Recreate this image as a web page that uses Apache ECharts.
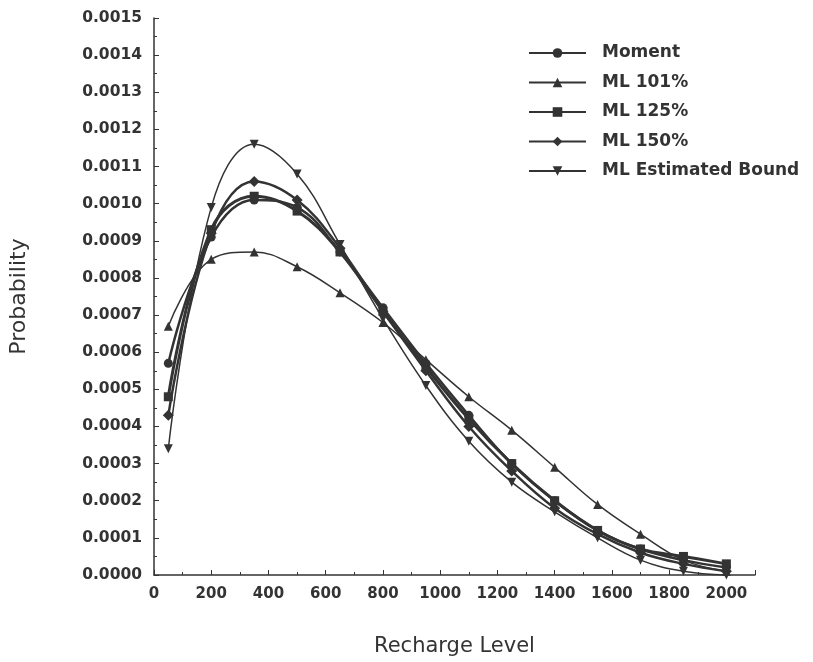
<!DOCTYPE html>
<html>
<head>
<meta charset="utf-8">
<script src="https://cdn.jsdelivr.net/npm/echarts@6/dist/echarts.min.js"></script>
<style>
html,body{margin:0;padding:0;background:#fff;}
#chart{width:813px;height:662px;}
</style>
</head>
<body>
<div id="chart"></div>
<script>
const rechargeLevels = [50, 200, 350, 500, 650, 800, 950, 1100, 1250, 1400, 1550, 1700, 1850, 2000];
const moment   = [0.00057, 0.00091, 0.00101, 0.00099, 0.00087, 0.00072, 0.00057, 0.00043, 0.00030, 0.00020, 0.00012, 0.00007, 0.00004, 0.00002];
const ml101    = [0.00067, 0.00085, 0.00087, 0.00083, 0.00076, 0.00068, 0.00058, 0.00048, 0.00039, 0.00029, 0.00019, 0.00011, 0.00004, 0.00001];
const ml125    = [0.00048, 0.00093, 0.00102, 0.00098, 0.00087, 0.00071, 0.00056, 0.00042, 0.00030, 0.00020, 0.00012, 0.00007, 0.00005, 0.00003];
const ml150    = [0.00043, 0.00092, 0.00106, 0.00101, 0.00088, 0.00071, 0.00055, 0.00040, 0.00028, 0.00018, 0.00011, 0.00006, 0.00003, 0.00001];
const mlBound  = [0.00034, 0.00099, 0.00116, 0.00108, 0.00089, 0.00069, 0.00051, 0.00036, 0.00025, 0.00017, 0.00010, 0.00004, 0.00001, 0.00000];
const seriesNames = ['Moment', 'ML 101%', 'ML 125%', 'ML 150%', 'ML Estimated Bound'];

const ink = '#333333';
const font = 'DejaVu Sans';
function pairs(vals){ return rechargeLevels.map((x,i)=>[x, vals[i]]); }

const specs = [
  {name: seriesNames[0], data: moment,  symbol: 'circle',   size: 9,  width: 2.5, rotate: 0},
  {name: seriesNames[1], data: ml101,   symbol: 'triangle', size: 9,  width: 1.5, rotate: 0},
  {name: seriesNames[2], data: ml125,   symbol: 'rect',     size: 9,  width: 3,   rotate: 0},
  {name: seriesNames[3], data: ml150,   symbol: 'diamond',  size: 11, width: 2.5, rotate: 0},
  {name: seriesNames[4], data: mlBound, symbol: 'triangle', size: 9,  width: 1.5, rotate: 180}
];

const chart = echarts.init(document.getElementById('chart'), null, {renderer: 'canvas'});
chart.setOption({
  animation: false,
  backgroundColor: '#ffffff',
  grid: {left: 147, right: 58, top: 18, bottom: 85, containLabel: false},
  legend: {
    orient: 'vertical',
    left: 528, top: 43, padding: 0,
    itemWidth: 57, itemHeight: 12, itemGap: 9.5,
    data: seriesNames,
    textStyle: {fontFamily: font, fontWeight: 'bold', fontSize: 17, color: ink, lineHeight: 20, padding: [0,0,0,11]}
  },
  xAxis: {
    type: 'value', min: 0, max: 2100, interval: 200,
    name: 'Recharge Level', nameLocation: 'middle', nameGap: 61,
    nameTextStyle: {fontFamily: font, fontSize: 21, color: ink},
    axisLine: {lineStyle: {color: ink, width: 1.5}},
    axisTick: {inside: true, length: 5, lineStyle: {color: ink}},
    minorTick: {show: true, splitNumber: 2, length: 3, lineStyle: {color: ink}},
    splitLine: {show: false},
    axisLabel: {fontFamily: font, fontWeight: 'bold', fontSize: 15, color: ink, margin: 12, showMaxLabel: false,
      formatter: v => String(v)}
  },
  yAxis: {
    type: 'value', min: 0, max: 0.0015, interval: 0.0001,
    name: 'Probability', nameLocation: 'middle', nameGap: 124,
    nameTextStyle: {fontFamily: font, fontSize: 22, color: ink},
    axisLine: {show: true, lineStyle: {color: ink, width: 1.5}},
    axisTick: {show: true, inside: true, length: 5, lineStyle: {color: ink}},
    minorTick: {show: true, splitNumber: 2, length: 3, lineStyle: {color: ink}},
    splitLine: {show: false},
    axisLabel: {fontFamily: font, fontWeight: 'bold', fontSize: 15.5, color: ink, margin: 12,
      formatter: v => v.toFixed(4)}
  },
  series: specs.map(s => ({
    type: 'line', name: s.name, data: pairs(s.data),
    smooth: 0.4,
    symbol: s.symbol, symbolSize: s.size, symbolRotate: s.rotate,
    lineStyle: {color: ink, width: s.width},
    itemStyle: {color: ink},
    emphasis: {disabled: true}
  }))
});
</script>
</body>
</html>
